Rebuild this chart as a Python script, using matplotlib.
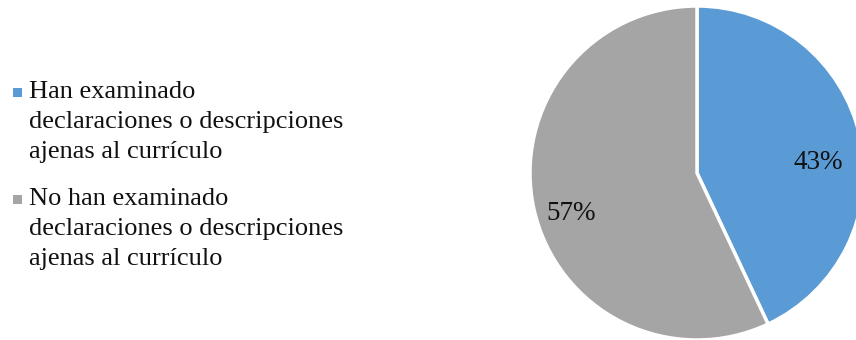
import matplotlib.pyplot as plt
from matplotlib.patches import Rectangle

# Data
categories = [
    "Han examinado\ndeclaraciones o descripciones\najenas al currículo",
    "No han examinado\ndeclaraciones o descripciones\najenas al currículo",
]
shares = [43, 57]
colors = ["#5B9BD5", "#A5A5A5"]

plt.rcParams['font.family'] = ['Liberation Serif', 'DejaVu Serif']

W, H = 856, 340
fig = plt.figure(figsize=(W / 100, H / 100), dpi=100)

# pie axes: centre (697, 173) px from top-left, radius 167 px
cx, cy, r = 697, 173, 167
ax = fig.add_axes([(cx - r) / W, (H - cy - r) / H, 2 * r / W, 2 * r / H])
wedges, _ = ax.pie(shares, colors=colors, startangle=90, counterclock=False,
                   radius=1, wedgeprops=dict(edgecolor='white', linewidth=2.5))
ax.set_xlim(-1, 1)
ax.set_ylim(-1, 1)
ax.set_aspect('equal')
ax.axis('off')

# percentage labels
label_pos = [(0.725, 0.06), (-0.755, -0.24)]
for val, (lx, ly) in zip(shares, label_pos):
    ax.text(lx, ly, f"{val}%", ha='center', va='center', fontsize=19.5, color='#111111')

# legend drawn by hand: square marker + wrapped label
first_baselines = [98, 205]
line_gap = 30
for label, col, base in zip(categories, colors, first_baselines):
    sq = 9
    fig.patches.append(Rectangle((13 / W, (H - base + 1) / H), sq / W, sq / H,
                                 transform=fig.transFigure, facecolor=col,
                                 edgecolor='none'))
    for i, line in enumerate(label.split("\n")):
        fig.text(29 / W, (H - base - i * line_gap) / H, line, ha='left',
                 va='baseline', fontsize=19, color='#111111')

fig.savefig('out.png', dpi=100)
